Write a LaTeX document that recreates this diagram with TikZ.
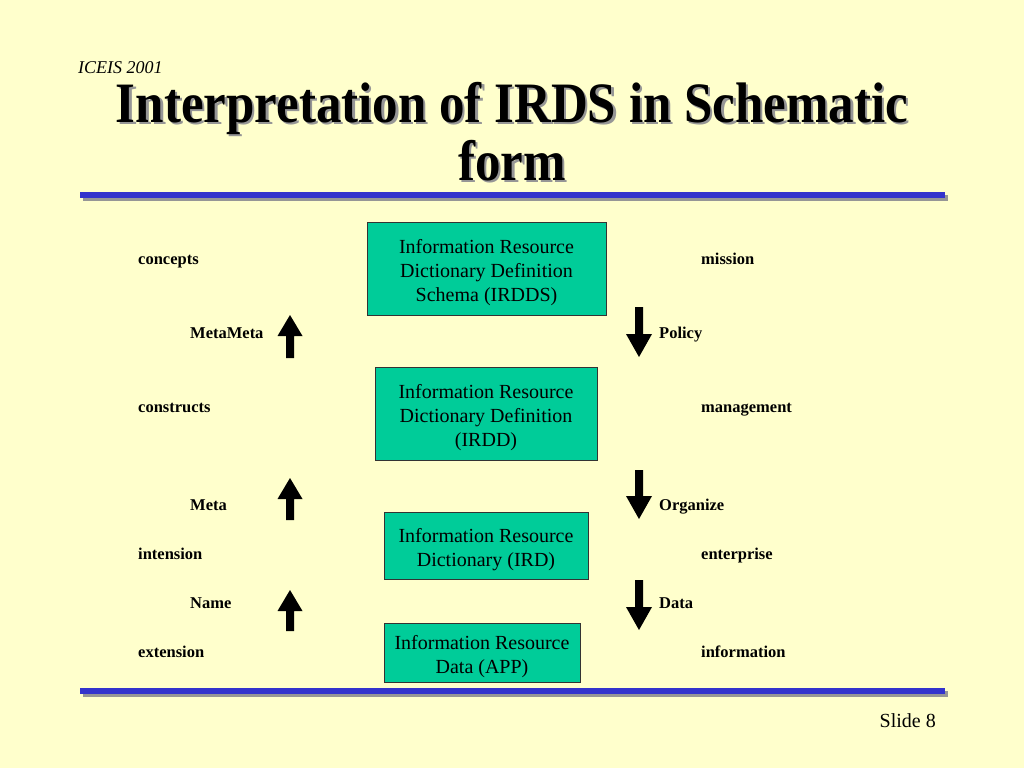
\documentclass[tikz,border=0pt]{standalone}
\usepackage{fontspec}
\setmainfont{Liberation Serif}
\usepackage{graphicx}
\definecolor{bg}{RGB}{255,255,204}
\definecolor{teal}{RGB}{0,204,153}
\definecolor{barblue}{RGB}{51,51,204}
\definecolor{shadowgray}{RGB}{150,150,150}
\tikzset{
  irbox/.style={draw=black!80, line width=0.8pt, fill=teal, inner sep=0pt},
  irtext/.style={align=center, inner sep=0pt, font=\fontsize{20}{24}\selectfont},
  lbl/.style={anchor=base west, inner sep=0pt, font=\fontsize{16.5}{19}\selectfont\bfseries},
  arr/.style={fill=black, draw=none},
}
\begin{document}
\begin{tikzpicture}[x=1pt,y=-1pt]
\useasboundingbox (0,0) rectangle (1024,768);
\fill[bg] (0,0) rectangle (1024,768);
% header
\node[anchor=base west, inner sep=0pt, font=\fontsize{18}{20}\selectfont\itshape] (conf) at (78,73) {ICEIS 2001};
\node[anchor=base, inner sep=0pt, text=shadowgray, font=\fontsize{51}{58}\selectfont\bfseries] (t1s) at (514.5,124.5) {\scalebox{1}[1.12]{Interpretation of IRDS in Schematic}};
\node[anchor=base, inner sep=0pt, text=shadowgray, font=\fontsize{51}{58}\selectfont\bfseries] (t2s) at (514.5,182.5) {\scalebox{1}[1.12]{form}};
\node[anchor=base, inner sep=0pt, font=\fontsize{51}{58}\selectfont\bfseries] (t1) at (512,122) {\scalebox{1}[1.12]{Interpretation of IRDS in Schematic}};
\node[anchor=base, inner sep=0pt, font=\fontsize{51}{58}\selectfont\bfseries] (t2) at (512,180) {\scalebox{1}[1.12]{form}};
% bars
\fill[shadowgray] (83,195) rectangle (948,201);
\fill[barblue] (80,192) rectangle (945,198);
\fill[shadowgray] (83,691) rectangle (948,697);
\fill[barblue] (80,688) rectangle (945,694);
% boxes
\node[irbox, minimum width=239pt, minimum height=93pt] (irdds) at (486.5,268.5) {};
\node[irtext] at ([yshift=-4pt]irdds.center) {Information Resource\\Dictionary Definition\\Schema (IRDDS)};
\node[irbox, minimum width=222pt, minimum height=93pt] (irdd) at (486,413.5) {};
\node[irtext] at ([yshift=-4pt]irdd.center) {Information Resource\\Dictionary Definition\\(IRDD)};
\node[irbox, minimum width=204pt, minimum height=67pt] (ird) at (486,545.5) {};
\node[irtext] at ([yshift=-4pt]ird.center) {Information Resource\\Dictionary (IRD)};
\node[irbox, minimum width=196pt, minimum height=59pt] (ira) at (482,652.5) {};
\node[irtext] at ([yshift=-4pt]ira.center) {Information Resource\\Data (APP)};
% left labels
\node[lbl] (concepts) at (138,264) {concepts};
\node[lbl] (metameta) at (190,338) {MetaMeta};
\node[lbl] (constructs) at (138,412) {constructs};
\node[lbl] (meta) at (190,510) {Meta};
\node[lbl] (intension) at (138,559) {intension};
\node[lbl] (name) at (190,608) {Name};
\node[lbl] (extension) at (138,657) {extension};
% right labels
\node[lbl] (mission) at (701,264) {mission};
\node[lbl] (policy) at (659,338) {Policy};
\node[lbl] (management) at (701,412) {management};
\node[lbl] (organize) at (659,510) {Organize};
\node[lbl] (enterprise) at (701,559) {enterprise};
\node[lbl] (data) at (659,608) {Data};
\node[lbl] (information) at (701,657) {information};
% up arrows
\foreach \t/\b in {315/358, 478/520, 590/631}{
  \fill[arr] (290,\t) -- (302.5,\t+21) -- (294,\t+21) -- (294,\b) -- (286,\b) -- (286,\t+21) -- (277.5,\t+21) -- cycle;
}
% down arrows
\foreach \t/\b in {307/357, 470/519, 580/630}{
  \fill[arr] (639,\b) -- (652,\b-23) -- (643,\b-23) -- (643,\t) -- (635,\t) -- (635,\b-23) -- (626,\b-23) -- cycle;
}
\node[anchor=base east, inner sep=0pt, font=\fontsize{20}{24}\selectfont] (slide) at (936,727) {Slide 8};
\end{tikzpicture}
\end{document}
